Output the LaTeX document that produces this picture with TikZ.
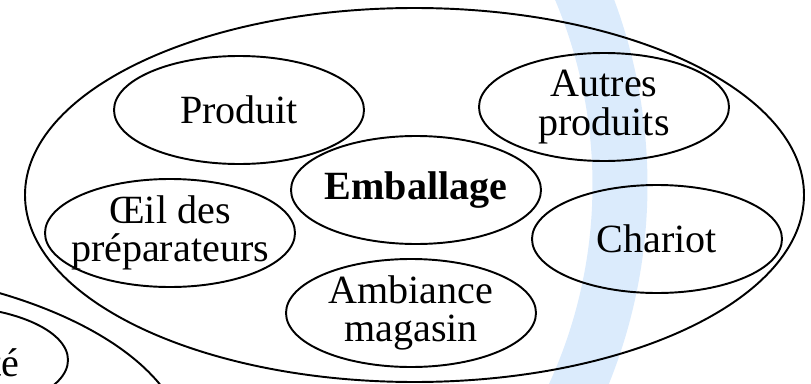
\documentclass[tikz,border=0pt]{standalone}
\usepackage{fontspec}
\setmainfont{Liberation Serif}
\usetikzlibrary{shapes.geometric}
\definecolor{bandblue}{RGB}{219,235,252}

\begin{document}
\begin{tikzpicture}[
  big/.style={draw, ellipse, line width=1.1pt, inner sep=0pt,
    minimum width=15.58cm, minimum height=7.48cm},
  blob/.style={draw, ellipse, line width=1.1pt, inner sep=0pt,
    minimum width=5cm, minimum height=2.16cm},
  lbl/.style={align=center, inner sep=0pt,
    font=\fontsize{22.8}{22}\selectfont}
]
  \useasboundingbox (0,0) rectangle (16.22,-7.68);
  \clip (0,0) rectangle (16.22,-7.68);
  % pale band running behind the diagram
  \draw[bandblue, line width=1.1cm] (2.32,-3.7) ++(27:10.08)
    arc[start angle=27, end angle=-27, radius=10.08];
  % outer domains
  \node[big] (milieu) at (8.29,-3.9) {};
  \node[big] (voisin) at (-4.05,-9.06) {};
  % the elements around the package
  \coordinate (P) at (4.78,-2.2);
  \coordinate (A) at (12.08,-2.14);
  \coordinate (E) at (8.32,-3.8);
  \coordinate (O) at (3.4,-4.66);
  \coordinate (C) at (13.14,-4.78);
  \coordinate (M) at (8.22,-6.26);
  \node[blob] (produit) at (P) {};
  \node[blob] (autres) at (A) {};
  \node[blob] (emballage) at (E) {};
  \node[blob] (oeil) at (O) {};
  \node[blob] (chariot) at (C) {};
  \node[blob] (ambiance) at (M) {};
  \node[lbl] (produit-t) at (produit) {Produit};
  \node[lbl] (autres-t) at (autres) {Autres\\produits};
  \node[lbl, font=\fontsize{22.8}{22}\selectfont\bfseries] (emballage-t) at (emballage) {Emballage};
  \node[lbl] (oeil-t) at (oeil) {Œil des\\préparateurs};
  \node[lbl] (chariot-t) at (chariot) {Chariot};
  \node[lbl] (ambiance-t) at (ambiance) {Ambiance\\magasin};
  % neighbour cut by the frame
  \node[blob] (bord) at (-1.14,-7.2) {};
  \node[lbl, anchor=base east] (bord-t) at (0.4,-7.52) {té};
\end{tikzpicture}
\end{document}
